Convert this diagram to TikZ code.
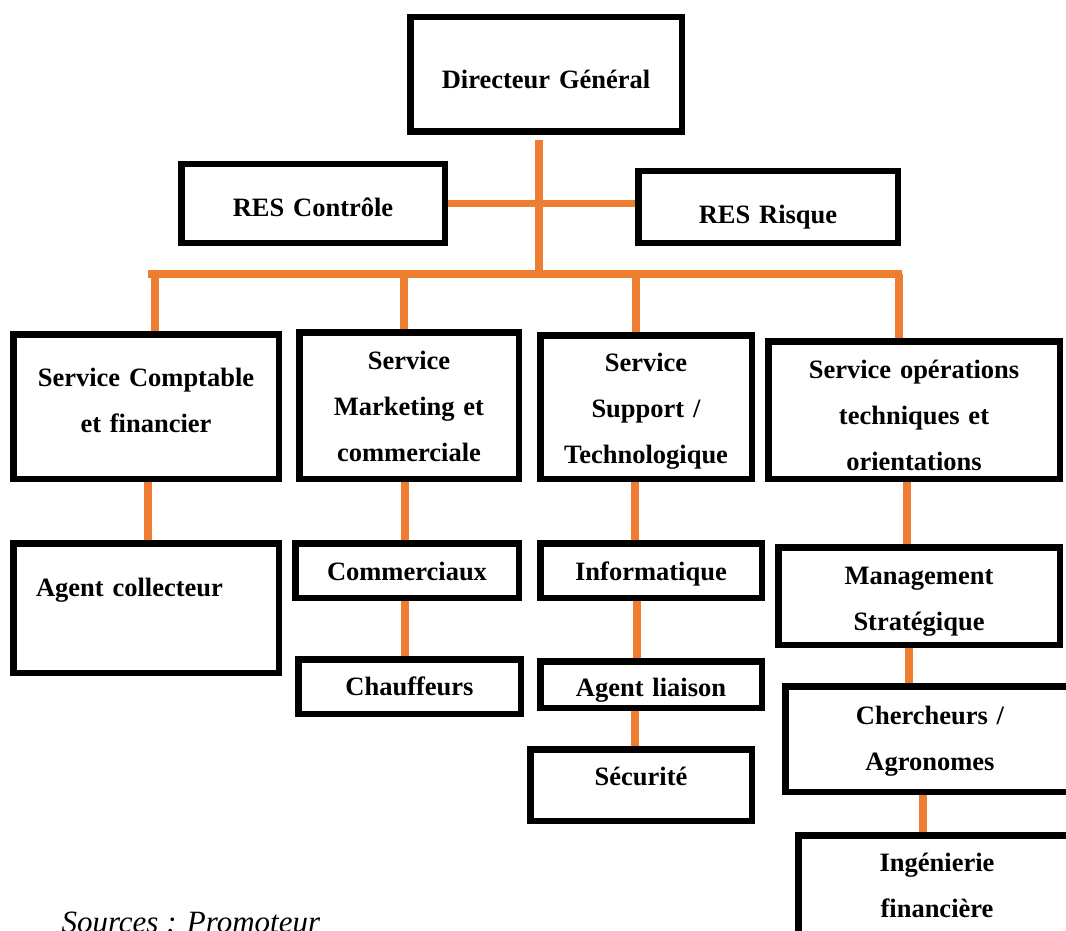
\documentclass[tikz,border=0pt]{standalone}
\usepackage{fontspec}
\setmainfont{Liberation Serif}
\definecolor{linkorange}{HTML}{ED7D31}

\begin{document}
\begin{tikzpicture}[x=1pt,y=-1pt,
    box/.style={rectangle, draw, line width=6.5pt, inner sep=0pt, align=center,
        text depth=10pt, font=\fontsize{26.5}{46}\selectfont\bfseries},
    link/.style={draw=linkorange, line width=7.5pt}]

            \path[use as bounding box] (0,0) rectangle (1066,931);
            \clip (0,0) rectangle (1066,931);

            \node[box, minimum width=271.5pt, minimum height=114.5pt, text width=250pt, text height=38.5pt] (1) at (546,74.5) {Directeur Général};
            \node[box, minimum width=263.5pt, minimum height=78.5pt, text width=240pt, text height=36.5pt] (2) at (313,203.5) {RES Contrôle};
            \node[box, minimum width=259.5pt, minimum height=71.5pt, text width=240pt, text height=43.5pt] (3) at (768,207) {RES Risque};

            \node[box, minimum width=265.5pt, minimum height=144.5pt, text width=250pt, text height=16.5pt, text depth=56pt] (4) at (146,406.5) {Service Comptable\\et financier};
            \node[box, minimum width=219.5pt, minimum height=146.5pt, text width=205pt, text height=30.5pt, text depth=102pt] (5) at (409,405.5) {Service\\Marketing et\\commerciale};
            \node[box, minimum width=211.5pt, minimum height=143.5pt, text width=205pt, text height=31.5pt, text depth=102pt] (6) at (646,407) {Service\\Support /\\Technologique};
            \node[box, minimum width=291.5pt, minimum height=137.5pt, text width=270pt, text height=29.5pt, text depth=92pt] (7) at (914,410) {Service opérations\\techniques et\\orientations};

            \node[box, align=left, minimum width=265.5pt, minimum height=129.5pt, text width=220pt, text height=27.5pt, text depth=50pt] (8) at (146,608) {Agent collecteur};
            \node[box, minimum width=223.5pt, minimum height=54.5pt, text width=210pt, text height=30.5pt] (9) at (407,570.5) {Commerciaux};
            \node[box, minimum width=222.5pt, minimum height=54.5pt, text width=210pt, text height=27.5pt] (10) at (409.5,686.5) {Chauffeurs};
            \node[box, minimum width=221.5pt, minimum height=54.5pt, text width=210pt, text height=30.5pt] (11) at (651,570.5) {Informatique};
            \node[box, minimum width=221.5pt, minimum height=46.5pt, text width=210pt, text height=34.5pt] (12) at (651,684.5) {Agent liaison};
            \node[box, minimum width=221.5pt, minimum height=71.5pt, text width=210pt, text height=11.5pt] (13) at (641,785) {Sécurité};
            \node[box, minimum width=281.5pt, minimum height=97.5pt, text width=260pt, text height=32.5pt, text depth=56pt] (14) at (919,596) {Management\\Stratégique};
            \node[box, minimum width=289.5pt, minimum height=105.5pt, text width=260pt, text height=27.5pt, text depth=56pt] (15) at (930,739) {Chercheurs /\\Agronomes};
            \node[box, minimum width=277.5pt, minimum height=121.5pt, text width=260pt, text height=6.5pt, text depth=56pt] (16) at (937,896) {Ingénierie\\financière};

            \node[anchor=base west, font=\fontsize{31}{36}\selectfont\itshape] (17) at (58,932) {Sources : Promoteur};

            % bus lines
            \coordinate (t) at (539,274);
            \coordinate (b1) at (148,274);
            \coordinate (b2) at (902,274);
            \coordinate (d1) at (155,274);
            \coordinate (d2) at (404,274);
            \coordinate (d3) at (636,274);
            \coordinate (d4) at (899,274);

            \draw[link, shorten <=5pt] ([xshift=-7pt]1.south) to (t);
            \draw[link] (2.east) to (2.east -| 3.west);
            \draw[link] (b1) to (b2);
            \draw[link] (d1) to (d1 |- 4.north);
            \draw[link] (d2) to (d2 |- 5.north);
            \draw[link] (d3) to (d3 |- 6.north);
            \draw[link] (d4) to (d4 |- 7.north);

            \draw[link] ([xshift=2pt]4.south) to ([xshift=2pt]8.north);
            \draw[link] ([xshift=-4pt]5.south) to ([xshift=-2pt]9.north);
            \draw[link] ([xshift=-2pt]9.south) to ([xshift=-4.5pt]10.north);
            \draw[link] ([xshift=-11pt]6.south) to ([xshift=-16pt]11.north);
            \draw[link] ([xshift=-14pt]11.south) to ([xshift=-14pt]12.north);
            \draw[link] ([xshift=-16pt]12.south) to ([xshift=-6pt]13.north);
            \draw[link] ([xshift=-7pt]7.south) to ([xshift=-12pt]14.north);
            \draw[link] ([xshift=-10pt]14.south) to ([xshift=-21pt]15.north);
            \draw[link] ([xshift=-7pt]15.south) to ([xshift=-14pt]16.north);

            ;
        \end{tikzpicture}
\end{document}
